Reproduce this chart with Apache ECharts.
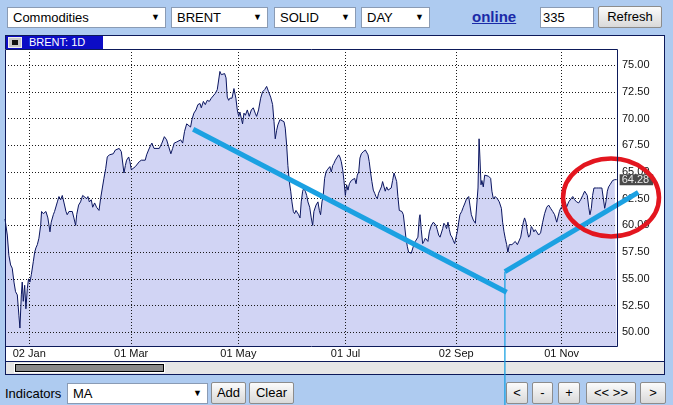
<!DOCTYPE html>
<html><head><meta charset="utf-8">
<script src="https://cdn.jsdelivr.net/npm/echarts@6/dist/echarts.min.js"></script>
<style>
html,body{margin:0;padding:0;}
body{width:673px;height:405px;overflow:hidden;background:#aecbf0;font-family:Arial,"Liberation Sans",sans-serif;position:relative;}
.a{position:absolute;box-sizing:border-box;}
.sel{background:#fff;border:1px solid #8a9bb4;font-size:13px;line-height:19px;padding-left:5px;height:21px;color:#000;}
.sel .arr{position:absolute;right:5px;top:0;font-size:9px;line-height:19px;}
.btn{background:linear-gradient(#fbfbfb,#d9d9d9);border:1px solid #8c8c8c;border-radius:2px;font-size:13px;line-height:20px;text-align:center;color:#000;height:22px;}
#chart{position:absolute;left:0;top:0;width:673px;height:405px;pointer-events:none;}
</style></head>
<body>
<!-- toolbar -->
<div class="a sel" style="left:7px;top:7px;width:159px;">Commodities<span class="arr">&#9660;</span></div>
<div class="a sel" style="left:171px;top:7px;width:97px;">BRENT<span class="arr">&#9660;</span></div>
<div class="a sel" style="left:274px;top:7px;width:82px;">SOLID<span class="arr">&#9660;</span></div>
<div class="a sel" style="left:361px;top:7px;width:69px;">DAY<span class="arr">&#9660;</span></div>
<div class="a" style="left:472px;top:7px;font-size:15px;font-weight:bold;color:#1a2aa8;text-decoration:underline;line-height:20px;">online</div>
<div class="a sel" style="left:540px;top:7px;width:54px;padding-left:2px;">335</div>
<div class="a btn" style="left:598px;top:6px;width:64px;">Refresh</div>
<!-- chart panel -->
<div class="a" style="left:5px;top:35px;width:660px;height:340px;background:#fff;border:1px solid #0d1a5a;"></div>
<div class="a" style="left:6px;top:36px;width:97px;height:13px;background:#0c0cc6;color:#fff;font-size:11px;line-height:13px;padding-left:23px;">BRENT: 1D</div>
<div class="a" style="left:8px;top:37px;width:14px;height:11px;background:#c8c8c8;border:1px solid #eee;"><div class="a" style="left:3px;top:2px;width:6px;height:5px;background:#111;"></div></div>
<div class="a" style="left:6px;top:361px;width:658px;height:13px;background:#e6e6e6;border-top:1px solid #0d1a5a;"></div>
<div class="a" style="left:14px;top:363px;width:151px;height:10px;background:#fff;"></div>
<div class="a" style="left:15px;top:364px;width:149px;height:8px;background:#8a8a8a;border:1px solid #000;"></div>
<!-- bottom controls -->
<div class="a" style="left:5px;top:383px;font-size:13px;line-height:21px;color:#000;">Indicators</div>
<div class="a sel" style="left:67px;top:383px;width:141px;">MA<span class="arr">&#9660;</span></div>
<div class="a btn" style="left:211px;top:382px;width:35px;">Add</div>
<div class="a btn" style="left:249px;top:382px;width:45px;">Clear</div>
<div class="a btn" style="left:506px;top:382px;width:22px;">&lt;</div>
<div class="a btn" style="left:532px;top:382px;width:21px;">-</div>
<div class="a btn" style="left:558px;top:382px;width:22px;">+</div>
<div class="a btn" style="left:586px;top:382px;width:50px;">&lt;&lt; &gt;&gt;</div>
<div class="a btn" style="left:640px;top:382px;width:26px;">&gt;</div>
<div id="chart"></div>
<script>
// Brent close: [day-of-year 2019 (1 = 01 Jan; <=0 = Dec 2018), price]
const brentDecFeb = [[-11.8,60.6],[-10.5,59.1],[-9.6,57.2],[-8.6,56.3],[-7.7,56.0],[-6.7,54.7],[-5.8,53.8],[-4.8,53.5],[-3.9,51.6],[-3.3,50.4],[-2.5,53.5],[-2.0,54.7],[-1.4,52.9],[-0.6,54.4],[0.1,52.2],[0.9,54.1],[1.6,55.0],[2.4,54.7],[3.2,55.4],[4.3,56.6],[5.1,57.5],[5.8,57.9],[6.6,58.2],[7.5,58.8],[8.5,60.0],[9.0,61.3],[10.0,61.1],[10.7,61.0],[11.5,61.3],[12.6,60.7],[13.8,59.4],[14.5,60.3],[15.7,61.0],[16.4,61.3],[17.2,61.3],[18.0,62.2],[18.9,62.7],[19.9,62.4],[20.8,62.8],[21.8,62.1],[22.9,61.3],[23.6,61.0],[24.6,61.3],[25.5,61.4],[26.5,61.3],[27.4,60.7],[28.4,60.0],[29.0,61.0],[30.1,61.9],[31.2,62.2],[32.4,62.8],[33.5,62.8],[34.7,62.5],[35.4,62.7],[36.2,62.2],[37.3,62.4],[38.1,61.7],[39.2,62.1],[40.3,61.7],[41.7,61.4],[42.6,62.5],[43.6,63.5],[44.5,64.4],[45.5,65.3],[46.4,66.4],[47.6,66.6],[48.7,66.6],[49.8,66.7],[51.0,67.05],[52.1,66.9],[53.2,67.2],[54.4,66.9],[55.1,67.05],[55.9,64.9],[56.7,65.6],[57.4,66.1],[58.6,66.4],[59.3,65.96],[60.1,65.2],[61.2,65.3],[62.4,65.5],[63.5,65.6],[64.6,65.96],[65.8,66.1],[66.9,65.96],[68.0,66.1],[68.8,66.6],[69.9,67.05],[71.1,67.5],[71.8,67.7],[73.0,67.2],[74.1,67.05]];
const brentMarJun = [[76.0,67.2],[77.5,67.7],[78.9,68.3],[80.2,68.0],[81.3,67.4],[82.6,66.7],[83.6,67.2],[84.5,67.7],[85.9,67.8],[87.0,67.7],[88.2,68.0],[89.3,67.7],[90.4,68.8],[91.6,69.5],[92.7,69.4],[93.8,69.2],[94.6,69.9],[95.7,70.5],[96.9,70.8],[98.0,71.3],[99.2,71.4],[99.9,71.0],[101.1,71.6],[102.2,71.3],[103.3,71.7],[104.5,71.6],[105.6,71.9],[106.7,72.0],[107.9,72.35],[109.0,72.7],[109.8,73.6],[110.5,74.4],[111.3,74.1],[112.1,74.2],[113.2,74.2],[114.0,73.8],[114.7,72.0],[115.5,71.7],[116.2,71.9],[117.4,71.9],[118.5,72.8],[119.6,71.9],[120.4,70.8],[121.2,70.2],[121.9,70.6],[122.7,70.5],[123.4,69.5],[124.2,70.5],[125.0,70.3],[126.1,70.8],[127.2,70.2],[128.4,70.8],[129.5,71.0],[130.6,70.5],[131.4,70.2],[132.5,70.8],[133.7,71.9],[134.8,72.5],[136.0,72.7],[137.1,73.0],[138.2,72.5],[139.4,72.0],[140.5,71.3],[141.3,69.7],[142.0,68.1],[142.8,68.9],[143.5,69.4],[144.7,69.9],[145.8,70.0],[147.0,69.7],[147.7,69.1],[148.5,67.5],[149.2,65.6],[150.0,64.1],[150.8,63.2],[151.5,62.2],[152.3,61.3],[153.0,61.1],[153.8,61.4],[154.5,61.3],[155.3,61.0],[156.1,60.7],[156.8,62.2],[157.6,63.2],[158.3,63.5],[159.1,63.2],[159.9,62.8]];
const brentJunSep = [[160.6,62.2],[161.6,61.7],[162.5,60.7],[163.3,60.0],[164.0,61.3],[165.2,61.9],[166.3,62.2],[167.1,61.4],[167.8,61.0],[168.6,62.2],[169.3,62.8],[170.1,64.4],[170.9,65.0],[171.6,65.2],[172.4,65.3],[173.1,65.5],[173.9,65.0],[174.7,65.6],[175.4,65.8],[176.2,66.1],[177.3,66.4],[178.1,66.6],[178.8,66.4],[179.6,65.96],[180.4,65.2],[181.1,64.2],[181.9,62.8],[182.6,63.8],[183.4,63.3],[184.2,63.9],[185.3,64.2],[186.4,64.1],[187.2,64.4],[188.0,63.9],[188.7,64.7],[189.5,65.0],[190.2,66.3],[191.0,66.7],[192.1,66.9],[193.3,67.05],[194.0,66.9],[194.8,66.6],[195.5,65.96],[196.3,64.9],[197.0,64.1],[197.8,63.3],[198.6,63.0],[199.3,62.7],[200.1,62.5],[200.8,63.0],[201.6,63.3],[202.4,63.6],[203.1,64.1],[203.9,64.2],[204.6,63.2],[205.4,63.6],[206.2,63.3],[207.3,63.3],[208.0,63.5],[208.8,64.2],[209.6,64.9],[210.3,65.0],[211.1,64.1],[211.8,62.7],[212.6,61.4],[213.4,61.3],[214.1,61.3],[214.9,61.0],[215.6,60.0],[216.4,58.8],[217.2,58.0],[217.9,57.5],[218.7,57.4],[219.4,57.4],[220.2,57.5],[220.9,58.2],[221.7,58.5],[222.5,58.6],[223.2,58.9],[224.0,60.7],[224.4,61.0],[225.1,59.6],[225.9,58.3],[226.6,58.5],[227.4,58.8],[228.2,58.9],[228.9,58.5],[229.7,59.4],[230.8,60.0],[232.0,60.3],[232.7,60.3],[233.5,60.0],[234.2,59.6],[235.0,59.1],[235.8,58.9],[236.5,58.8],[237.3,59.7],[238.0,60.2],[238.8,60.0],[239.5,59.7],[240.3,60.3],[241.1,59.6],[241.8,59.1],[242.6,58.9],[243.3,58.6],[244.1,58.3],[244.9,58.2],[245.6,59.4],[246.4,60.3]];
const brentSepDec = [[247.1,61.0],[248.1,61.3],[249.0,61.7],[250.0,62.1],[250.9,62.5],[252.1,62.7],[252.8,61.9],[253.6,61.0],[254.7,60.5],[255.9,60.2],[256.6,60.2],[257.4,63.5],[258.0,68.1],[258.5,66.3],[259.1,63.8],[259.6,64.2],[260.4,63.6],[261.2,64.7],[262.3,64.6],[263.4,64.6],[264.6,64.4],[265.3,63.2],[266.1,62.5],[267.2,62.7],[268.4,62.5],[269.5,62.2],[270.7,61.6],[271.4,60.3],[272.2,59.4],[272.9,58.8],[273.7,58.2],[274.4,57.5],[275.2,58.2],[276.0,58.3],[276.7,58.2],[277.5,58.3],[278.6,58.5],[279.8,58.2],[280.9,58.2],[281.7,58.9],[282.4,59.6],[283.2,60.3],[283.9,60.7],[284.7,60.3],[285.5,59.4],[286.2,58.9],[287.0,59.1],[287.7,59.9],[288.5,59.7],[289.2,59.4],[290.0,59.6],[290.8,59.4],[291.9,59.1],[293.0,59.3],[294.2,60.3],[295.3,61.1],[296.5,61.7],[297.6,61.9],[298.7,61.6],[299.9,61.3],[301.0,61.0],[302.2,60.3],[302.9,60.2],[303.7,61.3],[304.4,61.6],[305.2,61.7],[305.9,61.9],[307.1,62.2],[307.8,61.7],[309.0,62.2],[310.1,62.1],[311.3,62.7],[312.4,62.4],[313.5,62.2],[314.7,62.1],[315.8,62.4],[317.0,62.8],[318.1,63.2],[318.8,63.3],[319.6,62.8],[320.4,61.7],[321.1,61.0],[321.9,61.6],[322.6,62.8],[323.4,63.5],[324.2,63.6],[324.9,63.5],[326.1,63.5],[326.8,63.6],[327.9,63.5],[328.7,63.5],[329.5,61.6],[330.2,62.2],[331.0,63.2],[331.7,63.6],[332.5,63.8],[333.3,63.9],[334.0,64.2],[335.2,64.28],[336.3,64.28]];

const tickDays = [2, 60, 121, 182, 245, 305];
const tickLabels = ['02 Jan', '01 Mar', '01 May', '01 Jul', '02 Sep', '01 Nov'];
const priceTicks = [50, 52.5, 55, 57.5, 60, 62.5, 65, 67.5, 70, 72.5, 75];
const dayRange = [-11.8, 336.5];
const priceRange = [48.72, 76.5];

// hand-drawn annotations: segments [day1, price1, day2, price2]
const trendLines = [[95.3, 69.0, 273.7, 53.74], [272.7, 55.67, 348.6, 63.09]];
const dropLine = [[272.7, 55.67, 272.7, 42.5]];
const circleCenter = [333.1, 62.61];
const circleRadius = [27.3, 3.65];

const brent = [].concat(brentDecFeb, brentMarJun, brentJunSep, brentSepDec);

const GRID = {left: 5, top: 49, width: 612, height: 297};
const FONT = 'Arial, "Liberation Sans", sans-serif';
const BLUE = '#1ba1e2';

function segmentSeries(data, width) {
  return {type: 'custom', z: 8, clip: false, silent: true, data: data,
    renderItem: (params, api) => {
      const p1 = api.coord([api.value(0), api.value(1)]);
      const p2 = api.coord([api.value(2), api.value(3)]);
      return {type: 'line', shape: {x1: p1[0], y1: p1[1], x2: p2[0], y2: p2[1]},
        style: {stroke: BLUE, lineWidth: width, fill: null}};
    }};
}

const chart = echarts.init(document.getElementById('chart'), null, {renderer: 'canvas'});
chart.setOption({
  animation: false,
  backgroundColor: 'transparent',
  grid: {left: GRID.left, top: GRID.top, width: GRID.width, height: GRID.height, show: true, backgroundColor: '#fff', borderWidth: 0},
  xAxis: {
    type: 'value', min: dayRange[0], max: dayRange[1], z: 2,
    axisLine: {show: false},
    axisTick: {show: false, customValues: tickDays},
    axisLabel: {customValues: tickDays, margin: 2, fontSize: 11, color: '#111', fontFamily: FONT,
      formatter: v => { const i = tickDays.indexOf(v); return i >= 0 ? tickLabels[i] : ''; }},
    splitLine: {show: true, lineStyle: {color: '#1a1a1a', type: [1, 2], width: 1}}
  },
  yAxis: {
    type: 'value', position: 'right', min: priceRange[0], max: priceRange[1], z: 2,
    axisLine: {show: false},
    axisTick: {show: false, customValues: priceTicks},
    axisLabel: {customValues: priceTicks, margin: 5, fontSize: 11, color: '#111', fontFamily: FONT,
      formatter: v => v.toFixed(2)},
    splitLine: {show: true, lineStyle: {color: '#1a1a1a', type: [1, 2], width: 1}}
  },
  graphic: [{type: 'rect', z: 50, silent: true,
    shape: {x: GRID.left + 0.5, y: GRID.top + 0.5, width: GRID.width, height: GRID.height},
    style: {fill: null, stroke: '#0d1a5a', lineWidth: 1}}],
  series: [
    {type: 'line', data: brent, z: 1, showSymbol: false, silent: true,
      lineStyle: {width: 0}, areaStyle: {color: '#d1d4f4', opacity: 1}},
    {type: 'line', data: brent, z: 5, showSymbol: false, silent: true,
      lineStyle: {width: 1, color: '#0b1660'},
      endLabel: {show: true, formatter: p => p.value[1].toFixed(2), backgroundColor: '#4a4a4a', color: '#e8e8e8',
        fontSize: 11, fontFamily: FONT, padding: [0, 4, 0, 2], distance: 3, lineHeight: 11}},
    segmentSeries(trendLines, 5),
    segmentSeries(dropLine, 1.3),
    {type: 'custom', z: 9, clip: false, silent: true,
      data: [[circleCenter[0], circleCenter[1], circleRadius[0], circleRadius[1]]],
      renderItem: (params, api) => {
        const c = api.coord([api.value(0), api.value(1)]);
        const s = api.size([api.value(2), api.value(3)], [api.value(0), api.value(1)]);
        return {type: 'ellipse', shape: {cx: c[0], cy: c[1], rx: s[0], ry: s[1]},
          style: {fill: null, stroke: '#e3161f', lineWidth: 4.5}};
      }}
  ]
});
</script>
</body></html>
